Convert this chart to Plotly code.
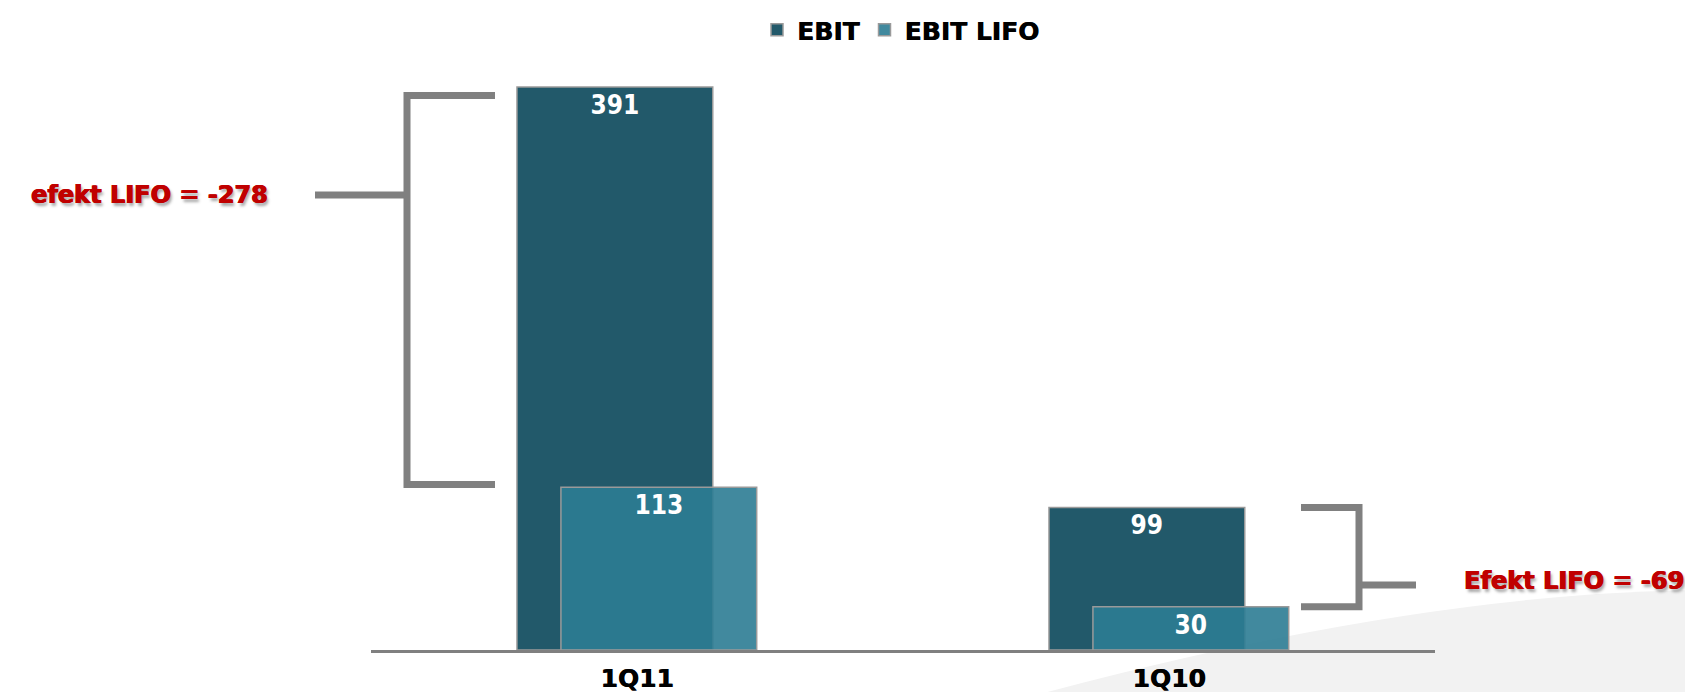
import plotly.graph_objects as go

categories = ["1Q11", "1Q10"]
ebit = [391, 99]
ebit_lifo = [113, 30]
effect_labels = ["efekt LIFO = -278", "Efekt LIFO = -69"]
series_names = ["EBIT", "EBIT LIFO"]

C_EBIT = "#22596A"
C_LIFO = "rgba(44,124,147,0.9)"
GRAY = "#808080"
RED = "#C00000"
BOLD_FONT = "DejaVu Sans"
NUM_FONT = "Liberation Sans Narrow, Arial Narrow, DejaVu Sans Condensed, sans-serif"

L, R, T, B = 363, 266, 40, 50
W, H = 1693, 692
PW, PH = W - L - R, H - T - B
YMAX = PH / 1.44

bar_w = 0.368

fig = go.Figure()
fig.add_trace(go.Bar(
    x=categories, y=ebit, name=series_names[0],
    width=bar_w, offset=-0.2256,
    marker=dict(color=C_EBIT, line=dict(color="#9a9a9a", width=1.5)),
    text=[str(v) for v in ebit], textposition="inside", insidetextanchor="end",
    textfont=dict(color="white", size=26, family=NUM_FONT, weight="bold"),
))
fig.add_trace(go.Bar(
    x=categories, y=ebit_lifo, name=series_names[1],
    width=bar_w, offset=-0.143,
    marker=dict(color=C_LIFO, line=dict(color="#9a9a9a", width=1.5)),
    text=[str(v) for v in ebit_lifo], textposition="inside", insidetextanchor="end",
    textfont=dict(color="white", size=26, family=NUM_FONT, weight="bold"),
))

def px2paper_x(px):
    return (px - L) / PW

def px2paper_y(py):
    return (H - B - py) / PH

# background swoosh (decoration)
p0 = (px2paper_x(1010), px2paper_y(692))
c = (px2paper_x(1400), px2paper_y(585))
p2 = (px2paper_x(1693), px2paper_y(582))
p3 = (px2paper_x(1693), px2paper_y(692))
shapes = [dict(
    type="path", xref="paper", yref="paper", layer="below",
    path=f"M {p0[0]},{p0[1]} Q {c[0]},{c[1]} {p2[0]},{p2[1]} L {p3[0]},{p3[1]} Z",
    fillcolor="#f2f2f2", line=dict(width=0),
)]

line_style = dict(color=GRAY, width=7)

# bracket 1 (left of 1Q11)
b1_v, b1_arm, b1_stub = px2paper_x(399), px2paper_x(487), px2paper_x(307)
top1, bot1 = ebit[0], ebit_lifo[0]
stub1 = top1 - 0.27 * (top1 - bot1)
shapes.append(dict(type="path", xref="paper", yref="y",
                   path=f"M {b1_arm},{top1 - 6} L {b1_v},{top1 - 6} L {b1_v},{bot1 + 2} L {b1_arm},{bot1 + 2}",
                   line=line_style))
shapes.append(dict(type="line", xref="paper", yref="y", x0=b1_stub, x1=b1_v, y0=stub1, y1=stub1,
                   line=line_style))

# bracket 2 (right of 1Q10)
b2_v, b2_arm, b2_stub = px2paper_x(1351), px2paper_x(1293), px2paper_x(1408)
top2, bot2 = ebit[1], ebit_lifo[1]
stub2 = bot2 + 0.22 * (top2 - bot2)
shapes.append(dict(type="path", xref="paper", yref="y",
                   path=f"M {b2_arm},{top2} L {b2_v},{top2} L {b2_v},{bot2} L {b2_arm},{bot2}",
                   line=line_style))
shapes.append(dict(type="line", xref="paper", yref="y", x0=b2_v, x1=b2_stub, y0=stub2, y1=stub2,
                   line=line_style))

red_font = dict(color=RED, size=24, family=BOLD_FONT, weight="bold",
                shadow="0.8px 0 0 #C00000, -0.4px 0 0 #C00000, 2px 3px 3px rgba(0,0,0,0.35)")
annotations = [
    dict(xref="paper", yref="y", x=px2paper_x(262), y=stub1, text=effect_labels[0],
         xanchor="right", yanchor="middle", showarrow=False, font=red_font),
    dict(xref="paper", yref="y", x=px2paper_x(1454), y=stub2 + 3, text=effect_labels[1],
         xanchor="left", yanchor="middle", showarrow=False, font=red_font),
]

black_bold = dict(size=25, family=BOLD_FONT, weight="bold", color="black",
                  shadow="0.6px 0 0 #000000")

fig.update_layout(
    width=W, height=H,
    margin=dict(l=L, r=R, t=T, b=B, autoexpand=False),
    paper_bgcolor="white", plot_bgcolor="rgba(0,0,0,0)",
    barmode="overlay",
    showlegend=True,
    legend=dict(orientation="h", x=px2paper_x(893), xanchor="center",
                y=px2paper_y(22), yanchor="middle", itemwidth=30,
                font=black_bold, bgcolor="rgba(0,0,0,0)"),
    xaxis=dict(range=[-0.5, 1.5], showgrid=False, zeroline=False,
               showline=True, linecolor=GRAY, linewidth=3, ticks="",
               ticklabelstandoff=4,
               tickfont=black_bold),
    yaxis=dict(range=[0, YMAX], visible=False, showgrid=False, zeroline=False),
    shapes=shapes,
    annotations=annotations,
)

fig.write_html("out.html")
